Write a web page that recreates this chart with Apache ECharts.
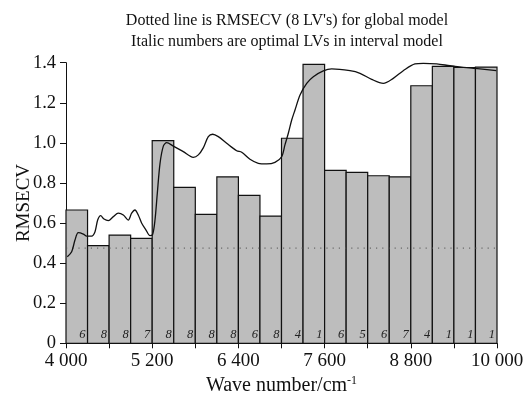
<!DOCTYPE html>
<html>
<head>
<meta charset="utf-8">
<script src="https://cdn.jsdelivr.net/npm/echarts@6/dist/echarts.min.js"></script>
<style>
  html, body { margin: 0; padding: 0; background: #fff; }
  #chart { width: 531px; height: 393px; }
</style>
</head>
<body>
<div id="chart"></div>
<script>
// interval edges (cm-1), 20 intervals of 300
var intervalEdges = [4000, 4300, 4600, 4900, 5200, 5500, 5800, 6100, 6400, 6700, 7000,
  7300, 7600, 7900, 8200, 8500, 8800, 9100, 9400, 9700, 10000];
var intervalRmsecv = [0.665, 0.487, 0.54, 0.524, 1.011, 0.778, 0.643, 0.83, 0.738, 0.635,
  1.023, 1.392, 0.863, 0.853, 0.836, 0.83, 1.285, 1.382, 1.376, 1.378];
var optimalLVs = [6, 8, 8, 7, 8, 8, 8, 8, 6, 8, 4, 1, 6, 5, 6, 7, 4, 1, 1, 1];
var globalRmsecv = 0.475;

// mean spectrum (scaled), drawn as the solid curve
var specWave = [4018, 4079, 4125, 4171, 4241, 4288, 4357, 4404, 4441, 4483, 4529, 4589, 4659,
  4728, 4798, 4867, 4914, 4960, 5006, 5054, 5114, 5169, 5207, 5239, 5271, 5309, 5355, 5402,
  5494, 5633, 5772, 5842, 5911, 5981, 6042, 6120, 6237, 6376, 6446, 6561, 6677, 6794, 6909,
  7002, 7048, 7095, 7142, 7188, 7258, 7351, 7443, 7582, 7699, 7953, 8093, 8255, 8417, 8556,
  8695, 8858, 8974, 9160, 9345, 9578, 9763, 9990];
var specValue = [0.432, 0.457, 0.515, 0.552, 0.545, 0.535, 0.535, 0.557, 0.615, 0.637, 0.62,
  0.612, 0.632, 0.649, 0.64, 0.615, 0.649, 0.665, 0.64, 0.599, 0.565, 0.537, 0.544, 0.615,
  0.748, 0.898, 0.984, 1.001, 0.984, 0.956, 0.928, 0.94, 0.975, 1.031, 1.043, 1.031, 0.998,
  0.961, 0.953, 0.918, 0.898, 0.895, 0.903, 0.931, 0.99, 1.048, 1.114, 1.164, 1.239, 1.297,
  1.33, 1.359, 1.369, 1.36, 1.347, 1.317, 1.297, 1.322, 1.36, 1.394, 1.397, 1.394, 1.385,
  1.375, 1.369, 1.36];

var serif = '"Liberation Serif", "DejaVu Serif", serif';

var barData = intervalRmsecv.map(function (v, i) {
  return [intervalEdges[i], intervalEdges[i + 1], v, optimalLVs[i]];
});
var lineData = specWave.map(function (w, i) { return [w, specValue[i]]; });

function fmtWave(v) {
  if ((v - 4000) % 1200 !== 0) return '';
  var s = String(v);
  return s.slice(0, s.length - 3) + ' ' + s.slice(-3);
}

var chart = echarts.init(document.getElementById('chart'));
chart.setOption({
  animation: false,
  backgroundColor: '#fff',
  title: {
    text: "Dotted line is RMSECV (8 LV's) for global model\nItalic numbers are optimal LVs in interval model",
    left: 282,
    textAlign: 'center',
    top: 5,
    textStyle: { fontFamily: serif, fontWeight: 'normal', fontSize: 16, lineHeight: 21, color: '#111' }
  },
  grid: { left: 66, right: 34, top: 62.7, bottom: 49.7, outerBoundsMode: 'none' },
  xAxis: {
    type: 'value', min: 4000, max: 10000, interval: 600,
    name: 'Wave number/cm{sup|-1}',
    nameLocation: 'middle', nameGap: 30,
    nameTextStyle: {
      fontFamily: serif, fontSize: 20, color: '#111',
      rich: { sup: { fontFamily: serif, fontSize: 12, color: '#111', verticalAlign: 'top', padding: [0, 0, 10, 0] } }
    },
    axisLine: { lineStyle: { color: '#111', width: 1 } },
    axisTick: { length: 5, lineStyle: { color: '#111' } },
    splitLine: { show: false },
    axisLabel: { formatter: fmtWave, fontFamily: serif, fontSize: 19, color: '#111', margin: 8, showMinLabel: true, showMaxLabel: true }
  },
  yAxis: {
    type: 'value', min: 0, max: 1.4, interval: 0.2,
    name: 'RMSECV', nameLocation: 'middle', nameGap: 32, nameMoveOverlap: false,
    nameTextStyle: { fontFamily: serif, fontSize: 19, color: '#111' },
    axisLine: { show: true, lineStyle: { color: '#111', width: 1 } },
    axisTick: { show: true, length: 6, lineStyle: { color: '#111' } },
    splitLine: { show: false },
    axisLabel: {
      fontFamily: serif, fontSize: 18.5, color: '#111', margin: 10,
      formatter: function (v) { return v === 0 ? '0' : v.toFixed(1); }
    }
  },
  series: [
    {
      type: 'custom',
      data: barData,
      z: 2,
      renderItem: function (params, api) {
        var p0 = api.coord([api.value(0), api.value(2)]);
        var p1 = api.coord([api.value(1), 0]);
        return {
          type: 'group',
          children: [
            {
              type: 'rect',
              shape: { x: p0[0], y: p0[1], width: p1[0] - p0[0], height: p1[1] - p0[1] },
              style: { fill: '#bdbdbd', stroke: '#111', lineWidth: 1.2 }
            },
            {
              type: 'text',
              style: {
                text: String(api.value(3)), x: p1[0] - 2, y: p1[1] - 2,
                align: 'right', verticalAlign: 'bottom',
                font: 'italic 12.5px ' + serif, fill: '#222'
              }
            }
          ]
        };
      }
    },
    {
      type: 'line',
      data: [[4000, globalRmsecv], [10000, globalRmsecv]],
      symbol: 'none', z: 3,
      lineStyle: { color: '#555', width: 1, type: [1.2, 5] }
    },
    {
      type: 'line',
      data: lineData,
      symbol: 'none', smooth: 0.3, z: 4,
      lineStyle: { color: '#111', width: 1.3 }
    }
  ]
});
</script>
</body>
</html>
